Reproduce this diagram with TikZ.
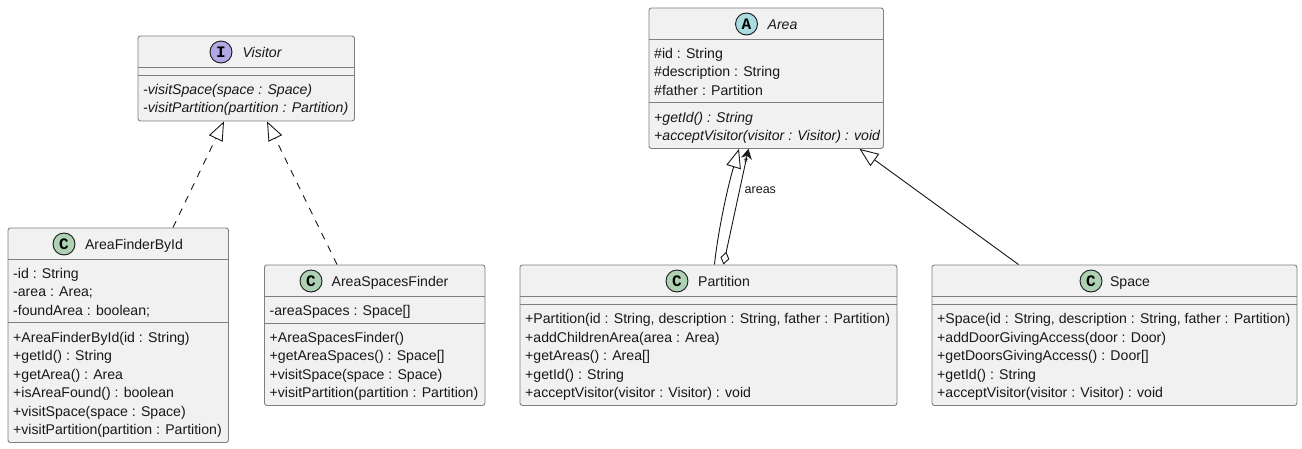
\documentclass[tikz,border=0pt]{standalone}
\usepackage{fontspec}
\setmainfont{Liberation Sans}
\newfontfamily\glyphfont{Liberation Mono}
\usetikzlibrary{arrows.meta}
\definecolor{boxbg}{HTML}{F1F1F1}
\definecolor{boxline}{HTML}{7F7F7F}
\definecolor{ink}{HTML}{181818}
\definecolor{spotc}{HTML}{ADD1B2}
\definecolor{spota}{HTML}{A9DCDF}
\definecolor{spoti}{HTML}{B4A7E5}
\tikzset{
  umlbox/.style={draw=boxline,fill=boxbg,rounded corners=2.5pt,line width=0.9pt,anchor=north west,inner sep=0pt,minimum width=#1},
  umlbox/.default=100pt,
  sepline/.style={draw=boxline,line width=0.9pt},
  member/.style={anchor=base west,inner sep=0pt,yshift=-0.7pt,text=ink,font=\fontsize{14.1}{16}\selectfont},
  amember/.style={member,font=\fontsize{14.1}{16}\selectfont\itshape},
  title/.style={anchor=base,inner sep=0pt,yshift=-0.7pt,text=ink,font=\fontsize{14.1}{16}\selectfont},
  atitle/.style={title,font=\fontsize{14.1}{16}\selectfont\itshape},
  spot/.style={circle,draw=ink,line width=0.9pt,minimum size=22pt,inner sep=0pt,text=black,font=\glyphfont\bfseries\fontsize{16}{18}\selectfont},
  conn/.style={draw=ink,line width=0.9pt},
  inherit/.style={conn,-{Triangle[open,fill=white,length=19pt,width=15pt,line width=0.9pt]}},
  realize/.style={inherit,dash pattern=on 7pt off 7pt},
  lbl/.style={inner sep=0pt,text=ink,font=\fontsize{12.5}{14}\selectfont},
}
\begin{document}
\begin{tikzpicture}[x=1pt,y=-1pt]
\useasboundingbox (0,0) rectangle (1302,448);
\fill[white] (0,0) rectangle (1302,448);
% Visitor
\node[umlbox=216.5pt,minimum height=85pt] (visitor) at (137.5,35.5) {};
\draw[sepline] (137.5,67.5) -- (354,67.5) (137.5,75.5) -- (354,75.5);
\node[spot,fill=spoti] (visitorspot) at (221,52) {I};
\node[atitle] (visitortitle) at (262,56.5) {Visitor};
\node[amember] (v1) at (143,93.5) {-visitSpace(space : Space)};
\node[amember] (v2) at (143,112) {-visitPartition(partition : Partition)};
% Area
\node[umlbox=234.5pt,minimum height=140.5pt] (area) at (648.5,7.5) {};
\draw[sepline] (648.5,39.5) -- (883,39.5) (648.5,102.5) -- (883,102.5);
\node[spot,fill=spota] (areaspot) at (746.5,24) {A};
\node[atitle] (areatitle) at (782.5,28.5) {Area};
\node[member] (a1) at (654,57.5) {\#id : String};
\node[member] (a2) at (654,76) {\#description : String};
\node[member] (a3) at (654,94.5) {\#father : Partition};
\node[amember] (a4) at (654,121.5) {+getId() : String};
\node[amember] (a5) at (654,140) {+acceptVisitor(visitor : Visitor) : void};
% AreaFinderById
\node[umlbox=220.5pt,minimum height=214.5pt] (finder) at (7.5,227.5) {};
\draw[sepline] (7.5,259.5) -- (228,259.5) (7.5,322.5) -- (228,322.5);
\node[spot,fill=spotc] (finderspot) at (64,244) {C};
\node[title] (findertitle) at (134,248.5) {AreaFinderById};
\node[member] (f1) at (13,277.5) {-id : String};
\node[member] (f2) at (13,296) {-area : Area;};
\node[member] (f3) at (13,314.5) {-foundArea : boolean;};
\node[member] (f4) at (13,341.5) {+AreaFinderById(id : String)};
\node[member] (f5) at (13,360) {+getId() : String};
\node[member] (f6) at (13,378.5) {+getArea() : Area};
\node[member] (f7) at (13,397) {+isAreaFound() : boolean};
\node[member] (f8) at (13,415.5) {+visitSpace(space : Space)};
\node[member] (f9) at (13,434) {+visitPartition(partition : Partition)};
% AreaSpacesFinder
\node[umlbox=220.5pt,minimum height=140.5pt] (spaces) at (264,264.5) {};
\draw[sepline] (264,296.5) -- (484.5,296.5) (264,323) -- (484.5,323);
\node[spot,fill=spotc] (spacesspot) at (311,281) {C};
\node[title] (spacestitle) at (390,285.5) {AreaSpacesFinder};
\node[member] (s1) at (269.5,315) {-areaSpaces : Space[]};
\node[member] (s2) at (269.5,341.5) {+AreaSpacesFinder()};
\node[member] (s3) at (269.5,360) {+getAreaSpaces() : Space[]};
\node[member] (s4) at (269.5,378.5) {+visitSpace(space : Space)};
\node[member] (s5) at (269.5,397) {+visitPartition(partition : Partition)};
% Partition
\node[umlbox=377pt,minimum height=140.5pt] (partition) at (519.5,264.5) {};
\draw[sepline] (519.5,296.5) -- (896.5,296.5) (519.5,304.5) -- (896.5,304.5);
\node[spot,fill=spotc] (partitionspot) at (677,281) {C};
\node[title] (partitiontitle) at (724,285.5) {Partition};
\node[member] (p1) at (525,323) {+Partition(id : String, description : String, father : Partition)};
\node[member] (p2) at (525,341.5) {+addChildrenArea(area : Area)};
\node[member] (p3) at (525,360) {+getAreas() : Area[]};
\node[member] (p4) at (525,378.5) {+getId() : String};
\node[member] (p5) at (525,397) {+acceptVisitor(visitor : Visitor) : void};
% Space
\node[umlbox=365pt,minimum height=140.5pt] (space) at (931.5,264.5) {};
\draw[sepline] (931.5,296.5) -- (1296.5,296.5) (931.5,304.5) -- (1296.5,304.5);
\node[spot,fill=spotc] (spacespot) at (1091,281) {C};
\node[title] (spacetitle) at (1130,285.5) {Space};
\node[member] (t1) at (937,323) {+Space(id : String, description : String, father : Partition)};
\node[member] (t2) at (937,341.5) {+addDoorGivingAccess(door : Door)};
\node[member] (t3) at (937,360) {+getDoorsGivingAccess() : Door[]};
\node[member] (t4) at (937,378.5) {+getId() : String};
\node[member] (t5) at (937,397) {+acceptVisitor(visitor : Visitor) : void};
% connectors
\draw[realize] ([xshift=165.5pt]finder.north west) -- ([xshift=86.5pt]visitor.south west);
\draw[realize] ([xshift=73pt]spaces.north west) -- ([xshift=129.5pt]visitor.south west);
\draw[inherit] ([xshift=195pt]partition.north west) .. controls +(3,-30) and +(-12,40) .. ([xshift=90.5pt]area.south west);
\draw[conn,{Diamond[open,fill=white,length=13pt,width=9pt,line width=0.9pt]}-{Stealth[length=10pt,width=11pt,inset=3pt]}] ([xshift=204pt]partition.north west) -- ([xshift=100pt]area.south west);
\draw[inherit] ([xshift=499pt,yshift=0pt]partition.north west) -- ([xshift=211pt]area.south west);
\node[lbl,anchor=base west] (areaslabel) at (744.5,193) {areas};
\node[lbl,anchor=center] (areasstar) at (746,162) {*};
\end{tikzpicture}
\end{document}
